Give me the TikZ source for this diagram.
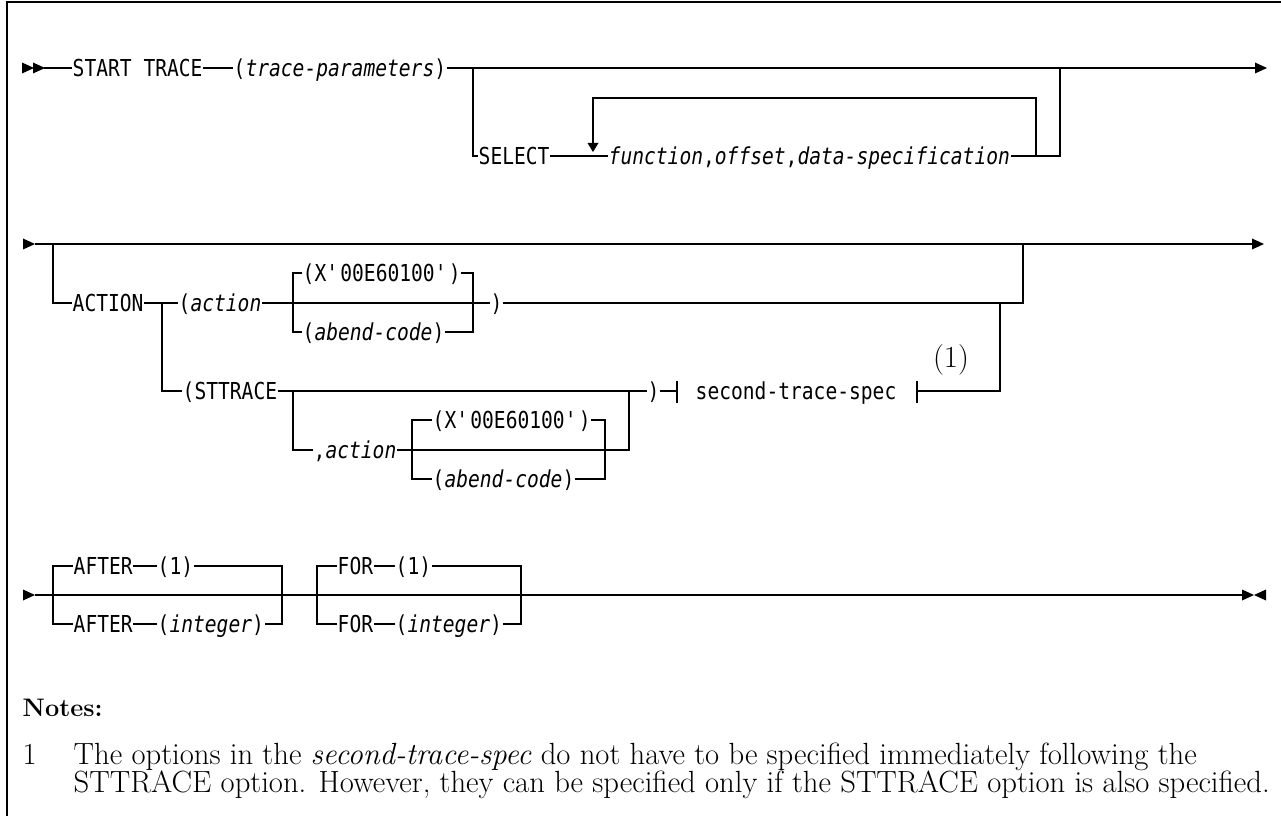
\documentclass[tikz,border=0pt]{standalone}
\usepackage{fontspec}
\usetikzlibrary{positioning}
\newfontfamily\railfont[UprightFeatures={FakeStretch=0.84},ItalicFont={DejaVu Sans Mono Oblique},ItalicFeatures={FakeStretch=0.84}]{DejaVu Sans Mono}
\newcommand\rf{\railfont\fontsize{17.5}{20}\selectfont}
\newcommand\nf{\fontsize{23}{27}\selectfont}
\newcommand\q{\textquotesingle}
\newcommand\rtri[2]{\fill (#1,#2) ++(0,-5.5) -- ++(12,5.5) -- ++(-12,5.5) -- cycle;}
\newcommand\ltri[2]{\fill (#1,#2) ++(12,-5.5) -- ++(-12,5.5) -- ++(12,5.5) -- cycle;}
\newcommand\dtri[2]{\fill (#1,#2) ++(-5.5,-9) -- ++(11,0) -- ++(-5.5,9) -- cycle;}

\begin{document}
\begin{tikzpicture}[x=0.75pt, y=-0.75pt, line width=1.1pt,
    kw/.style={font=\rf, inner sep=0pt, text height=12.75pt, text depth=0pt, anchor=west},
    note/.style={font=\nf, inner sep=0pt, anchor=base west}]
    \useasboundingbox (0,0) rectangle (1281,816);
    \draw (7,816) -- (7,2) -- (1281,2);

    \node[kw] (st) at (72,68) {START TRACE};
    \node[kw] (tp) at (233,68) {(\textit{trace-parameters})};
    \node[kw] (sel) at (478,156) {SELECT};
    \node[kw] (fn) at (608,156) {\textit{function},\textit{offset},\textit{data-specification}};
    \coordinate (r1s) at (44,68); \coordinate (r1e) at (1255,68);
    \coordinate (b1) at (473,68); \coordinate (b2) at (1060,68);
    \coordinate (lp) at (1036,156); \coordinate (lq) at (593,98);
    \rtri{22}{68}\rtri{33}{68}\rtri{1255}{68}
    \draw (r1s) -- (st.west) (st.east) -- (tp.west) (tp.east) -- (r1e);
    \draw (b1) |- (sel.west) (sel.east) -- (fn.west) (fn.east) -| (b2);
    \draw (lp) |- (lq) -- ++(0,45);
    \dtri{593}{152}

    \node[kw] (act) at (72,303) {ACTION};
    \node[kw] (lpa) at (178,303) {(\textit{action}};
    \node[kw] (rp1) at (490,303) {)};
    \node[kw] (sttr) at (182,391) {(STTRACE};
    \node[kw] (ca) at (313,450) {,\textit{action}};
    \node[kw] (rp2) at (647,391) {)};
    \node[kw] (sts) at (695,391) {second-trace-spec};
    \node[note, anchor=center] (ref1) at (951,360) {(1)};
    \coordinate (r2s) at (35,244); \coordinate (r2e) at (1252,244);
    \coordinate (b3) at (53,244); \coordinate (b4) at (1023,244);
    \coordinate (c0) at (162,303); \coordinate (c7) at (1000,303);
    \coordinate (c8) at (293,391); \coordinate (c9) at (629,391);
    \coordinate (bl) at (677,391); \coordinate (br) at (917,391);
    \rtri{23}{244}\rtri{1252}{244}
    \draw (r2s) -- (r2e);
    \draw (b3) |- (act.west) (act.east) -- (lpa.west) (lpa.east) -- (rp1.west) (rp1.east) -| (b4);
    \draw (c0) |- (sttr.west) (sttr.east) -- (rp2.west) (rp2.east) -- (bl) (br) -| (c7);
    \draw (c8) |- (ca.west) (ca.east) -| (c9);
    \draw (bl) ++(0,-10) -- ++(0,22) (br) ++(0,-10) -- ++(0,22);
    \foreach \i/\xv/\ym/\xl/\xr in {1/302/303/293/473, 2/432/450/412/605} {
        \node[kw] (x\i) at (\xv,\ym-30) {(X\q00E60100\q)};
        \node[kw] (ab\i) at (\xv,\ym+29) {(\textit{abend-code})};
        \coordinate (cl\i) at (\xl,\ym); \coordinate (cr\i) at (\xr,\ym);
        \draw (x\i.west) -| (cl\i) |- (ab\i.west) (x\i.east) -| (cr\i) |- (ab\i.east);
    }

    \coordinate (r3s) at (35,595); \coordinate (r3e) at (1242,595);
    \rtri{23}{595}\rtri{1242}{595}\ltri{1254}{595}
    \draw (r3s) -- (r3e);
    \foreach \w/\xk/\xv/\xl/\xr in {AFTER/73/157/53/282, FOR/337/395/317/521} {
        \node[kw] (\w-u) at (\xk,566) {\w};
        \node[kw] (\w-uv) at (\xv,566) {(1)};
        \node[kw] (\w-d) at (\xk,624) {\w};
        \node[kw] (\w-dv) at (\xv,624) {(\textit{integer})};
        \coordinate (\w-l) at (\xl,595); \coordinate (\w-r) at (\xr,595);
        \draw (\w-u.west) -| (\w-l) |- (\w-d.west) (\w-u.east) -- (\w-uv.west) (\w-d.east) -- (\w-dv.west);
        \draw (\w-uv.east) -| (\w-r) |- (\w-dv.east);
    }

    \node[note, font=\fontsize{19}{23}\selectfont\bfseries] (notes) at (22,716) {Notes:};
    \node[note] (num1) at (22,764) {1};
    \node[note] (txt1) at (73,764) {The options in the \textit{second-trace-spec} do not have to be specified immediately following the};
    \node[note] (txt2) at (73,792) {STTRACE option. However, they can be specified only if the STTRACE option is also specified.};
\end{tikzpicture}
\end{document}
